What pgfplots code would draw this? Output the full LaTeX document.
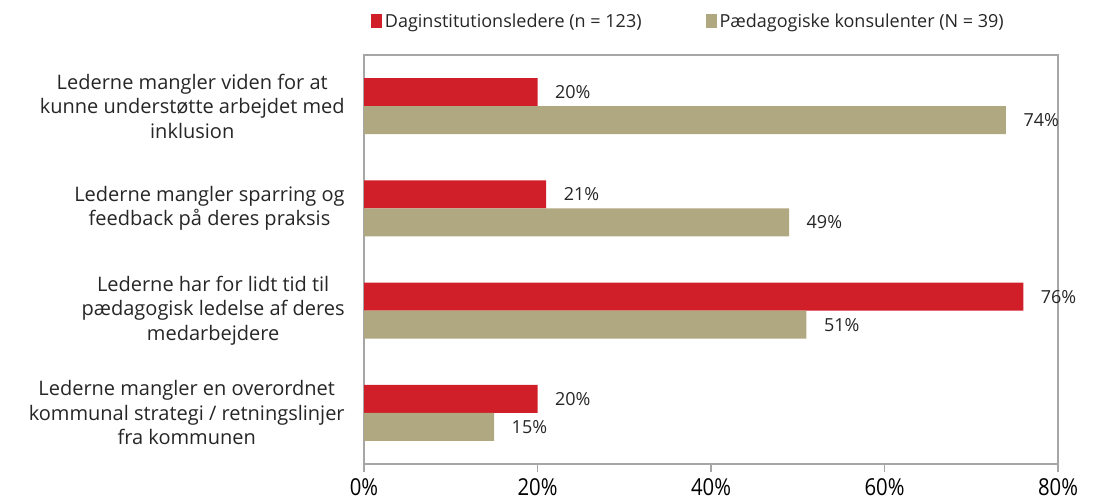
\documentclass[border=0pt]{standalone}
\usepackage{fontspec}
\setmainfont{Open Sans}
\newfontfamily\condfont[FakeStretch=0.87]{Open Sans}
\usepackage{pgfplots}
\pgfplotsset{compat=1.18}
\definecolor{lederred}{HTML}{D01F28}
\definecolor{konstan}{HTML}{B0A880}
\definecolor{framegray}{HTML}{A6A6A6}
\definecolor{txt}{HTML}{262626}
\begin{document}
\begin{tikzpicture}
% canvas of 1093 x 502 px at 0.75pt per px
\path[use as bounding box] (0,0) rectangle (819.75pt,-376.5pt);
\begin{axis}[
    at={(273pt,-348pt)}, anchor=south west,
    scale only axis,
    width=520.5pt, height=306.75pt,
    xmin=0, xmax=80,
    ymin=-0.5, ymax=3.5,
    xtick={0,20,40,60,80},
    ytick={0,1,2,3},
    yticklabels={
        {Lederne mangler en overordnet\\kommunal strategi / retningslinjer\\fra kommunen},
        {Lederne har for lidt tid til\\pædagogisk ledelse af deres\\medarbejdere},
        {Lederne mangler sparring og\\feedback på deres praksis},
        {Lederne mangler viden for at\\kunne understøtte arbejdet med\\inklusion}},
    yticklabel style={align=center, font=\fontsize{15}{18.4}\selectfont, text=txt, xshift=-5pt},
    xticklabel={\pgfmathprintnumber{\tick}\%},
    xticklabel style={font=\condfont\fontsize{17.5}{19}\selectfont, text=black, yshift=-1.5pt},
    /pgf/number format/assume math mode=true,
    axis line style={framegray, line width=1.3pt},
    x tick style={framegray, line width=0.9pt},
    xtick pos=bottom, tick align=outside,
    major tick length=6pt,
    y tick style={draw=none},
    xbar, bar width=21pt,
    nodes near coords={\pgfmathprintnumber{\pgfplotspointmeta}\%},
    nodes near coords style={font=\fontsize{13.5}{15}\selectfont, text=txt, anchor=west, inner sep=0pt, xshift=13pt},
    point meta=x,
    legend columns=2,
    legend style={at={(0,1)}, anchor=south west, draw=none, fill=none,
        font=\fontsize{13.5}{15}\selectfont, text=txt,
        xshift=2pt, yshift=15pt,
        /tikz/every even column/.append style={column sep=46pt}},
    legend image code/.code={\fill[#1] (0pt,-5pt) rectangle (8.5pt,5.5pt);},
    clip=false,
]
\addplot[fill=lederred, draw=none, bar shift=10.5pt] coordinates {(20,0) (76,1) (21,2) (20,3)};
\addlegendentry{Daginstitutionsledere (n = 123)}
\addplot[fill=konstan, draw=none, bar shift=-10.5pt] coordinates {(15,0) (51,1) (49,2) (74,3)};
\addlegendentry{Pædagogiske konsulenter (N = 39)}
\end{axis}
\end{tikzpicture}
\end{document}
